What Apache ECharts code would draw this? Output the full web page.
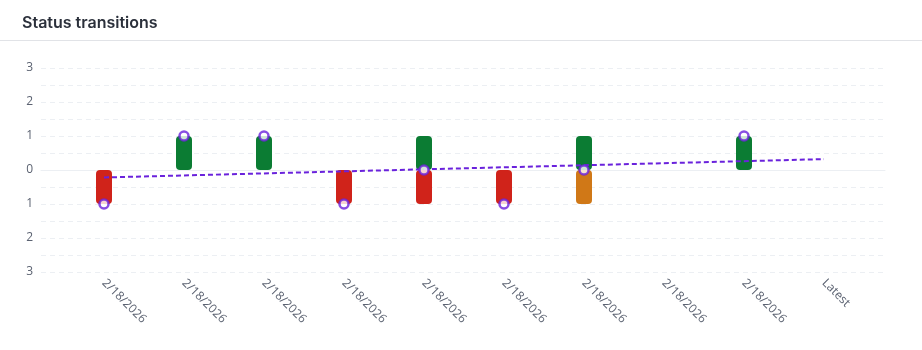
<!DOCTYPE html>
<html>
<head>
<meta charset="utf-8">
<script src="https://cdn.jsdelivr.net/npm/echarts@6/dist/echarts.min.js"></script>
<style>
  html, body { margin: 0; padding: 0; background: #fff; }
  #chart { width: 922px; height: 350px; }
</style>
</head>
<body>
<div id="chart"></div>
<script>
// Transition log: one column per snapshot, last column is the current state
const categories = ['2/18/2026', '2/18/2026', '2/18/2026', '2/18/2026', '2/18/2026',
                    '2/18/2026', '2/18/2026', '2/18/2026', '2/18/2026', 'Latest'];
const improved = [null, 1, 1, null, 1, null, 1, null, 1, null];
const regressed = [-1, null, null, -1, -1, -1, null, null, null, null];
const warned = [null, null, null, null, null, null, -1, null, null, null];
const netChange = [-1, 1, 1, -1, 0, -1, 0, null, 1, null];
const trend = [-0.22, null, null, null, null, null, null, null, null, 0.32];
const yTicks = [-3, -2, -1, 0, 1, 2, 3];

const labelColor = '#5b6271';
const gridColor = '#eceff3';
const purple = '#6a22dc';

const chart = echarts.init(document.getElementById('chart'), null, { renderer: 'canvas' });

const bar = (name, data, color) => ({
  name, type: 'bar', stack: 'moves', xAxisIndex: 1, yAxisIndex: 1,
  data, barWidth: 16,
  itemStyle: { color, borderRadius: 4 },
  z: 2
});

chart.setOption({
  animation: false,
  title: {
    text: 'Status transitions', left: 17, top: 10,
    textStyle: { fontFamily: 'Inter', fontSize: 16, fontWeight: 600, color: '#2b303b' }
  },
  graphic: [{
    type: 'line', shape: { x1: 0, y1: 40.5, x2: 922, y2: 40.5 },
    style: { stroke: '#e1e3e7', lineWidth: 1 }, silent: true
  }],
  grid: [
    { left: 41, right: 37, top: 68, bottom: 78 },
    { left: 64, right: 58, top: 68, bottom: 78 }
  ],
  xAxis: [
    { type: 'value', gridIndex: 0, min: 0, max: 1, show: true,
      axisLine: { show: true, lineStyle: { color: gridColor } },
      axisTick: { show: false }, axisLabel: { show: false }, splitLine: { show: false } },
    { type: 'category', gridIndex: 1, data: categories, boundaryGap: true,
      axisLine: { show: false }, axisTick: { show: false },
      axisLabel: { rotate: -45, margin: 9, fontSize: 12, color: labelColor,
                   fontFamily: 'Open Sans', interval: 0 } }
  ],
  yAxis: [
    { type: 'value', gridIndex: 0, min: -3, max: 3, interval: 0.5,
      axisLine: { show: false }, axisTick: { show: false },
      axisLabel: {
        margin: 8, fontSize: 12, color: labelColor, fontFamily: 'Open Sans',
        formatter: v => (yTicks.includes(v) ? String(Math.abs(v)) : '')
      },
      splitLine: { show: true, lineStyle: { color: gridColor, type: [5, 4], width: 1 } } },
    { type: 'value', gridIndex: 1, min: -3, max: 3, interval: 0.5, show: false }
  ],
  series: [
    bar('Improved', improved, '#0b7c33'),
    bar('Regressed', regressed, '#d0231a'),
    bar('Warning', warned, '#d07817'),
    {
      name: 'Trend', type: 'line', xAxisIndex: 1, yAxisIndex: 1,
      data: trend, connectNulls: true, showSymbol: false, symbol: 'none',
      lineStyle: { color: purple, width: 2, type: [5, 3] }, z: 3
    },
    {
      name: 'Net', type: 'scatter', xAxisIndex: 1, yAxisIndex: 1,
      data: netChange, symbol: 'circle', symbolSize: 9,
      itemStyle: { color: '#ffffff', borderColor: purple, borderWidth: 2.5 }, z: 4
    }
  ]
});
</script>
</body>
</html>
